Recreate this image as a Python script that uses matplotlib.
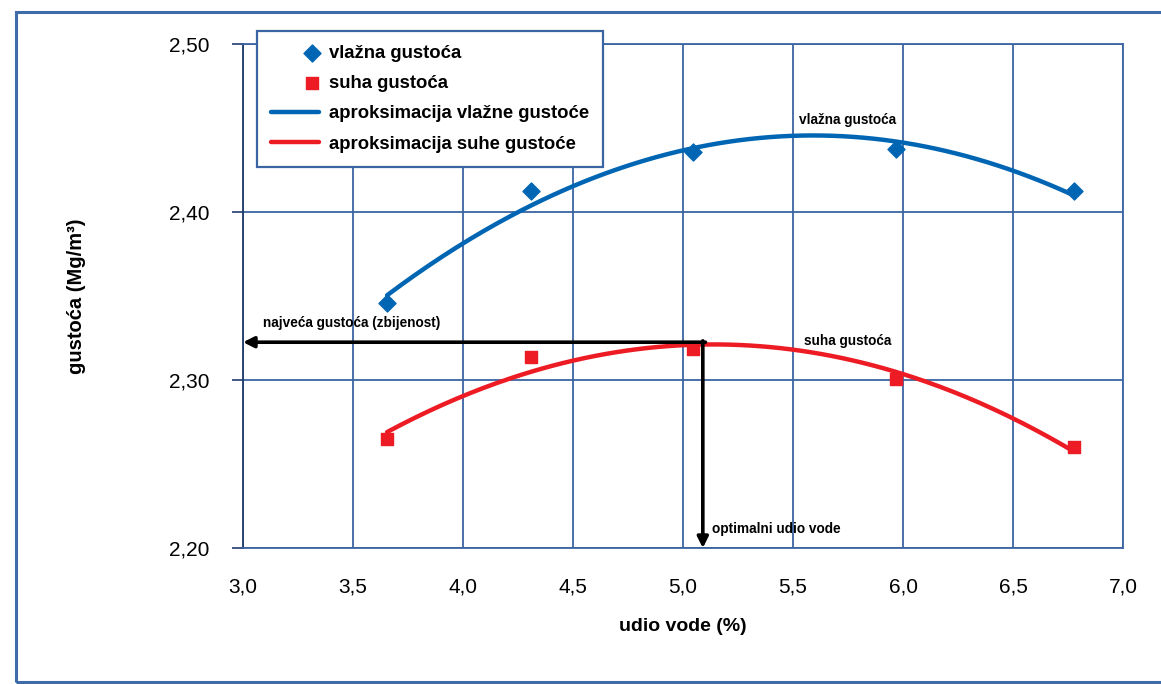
import numpy as np
import matplotlib
matplotlib.use("Agg")
import matplotlib.pyplot as plt
from matplotlib.patches import Rectangle
from matplotlib.ticker import FuncFormatter
from matplotlib.legend_handler import HandlerPathCollection

plt.rcParams['font.family'] = ['Liberation Sans', 'DejaVu Sans']

# measured points (udio vode %, gustoca Mg/m3)
udio_vode = [3.655, 4.31, 5.045, 5.97, 6.775]
vlazna = [2.346, 2.4127, 2.4355, 2.4375, 2.4125]
suha = [2.2647, 2.3135, 2.3185, 2.3005, 2.260]

# optimum
opt_udio = 5.09
max_gustoca = 2.3225

x_ticks = [3.0, 3.5, 4.0, 4.5, 5.0, 5.5, 6.0, 6.5, 7.0]
y_ticks = [2.20, 2.30, 2.40, 2.50]

plava = '#0066b3'
crvena = '#ed1c24'
mreza = '#3b64a2'


class DesniMarker(HandlerPathCollection):
    # legend marker sits at the right end of the handle box
    def get_xdata(self, legend, xdescent, ydescent, width, height, fontsize):
        x = [-xdescent + 0.86 * width]
        return x, x


fig = plt.figure(figsize=(11.61, 6.84), dpi=100)
ax = fig.add_axes([0.2093, 0.1988, 0.7580, 0.7369])

# quadratic approximations
xs = np.linspace(min(udio_vode), max(udio_vode), 200)
pv = np.polyfit(udio_vode, vlazna, 2)
ps = np.polyfit(udio_vode, suha, 2)

ax.plot(xs, np.polyval(pv, xs), color=plava, lw=3.2, solid_capstyle='round', zorder=3,
        label='aproksimacija vlažne gustoće')
ax.plot(xs, np.polyval(ps, xs), color=crvena, lw=3.2, solid_capstyle='round', zorder=3,
        label='aproksimacija suhe gustoće')
sv = ax.scatter(udio_vode, vlazna, marker='D', s=75, color=plava, zorder=4, label='vlažna gustoća')
ss = ax.scatter(udio_vode, suha, marker='s', s=75, color=crvena, zorder=4, label='suha gustoća')

# optimum arrows
ax.annotate('', xy=(3.0, max_gustoca), xytext=(opt_udio + 0.012, max_gustoca),
            arrowprops=dict(arrowstyle='-|>', lw=2.6, color='black', mutation_scale=16,
                            shrinkA=0, shrinkB=0), zorder=5)
ax.annotate('', xy=(opt_udio, 2.20), xytext=(opt_udio, max_gustoca + 0.0008),
            arrowprops=dict(arrowstyle='-|>', lw=2.6, color='black', mutation_scale=16,
                            shrinkA=0, shrinkB=0), zorder=5)

ax.text(3.09, 2.3295, 'najveća gustoća (zbijenost)', fontsize=9.8, fontweight='bold', ha='left', va='bottom')
ax.text(opt_udio + 0.04, 2.207, 'optimalni udio vode', fontsize=9.8, fontweight='bold', ha='left', va='bottom')
ax.text(5.75, 2.4505, 'vlažna gustoća', fontsize=9.8, fontweight='bold', ha='center', va='bottom')
ax.text(5.75, 2.319, 'suha gustoća', fontsize=9.8, fontweight='bold', ha='center', va='bottom')

ax.set_xlim(3.0, 7.0)
ax.set_ylim(2.20, 2.50)
ax.set_xticks(x_ticks)
ax.set_yticks(y_ticks)
ax.xaxis.set_major_formatter(FuncFormatter(lambda v, p: f'{v:.1f}'.replace('.', ',')))
ax.yaxis.set_major_formatter(FuncFormatter(lambda v, p: f'{v:.2f}'.replace('.', ',')))
ax.tick_params(axis='x', length=0, pad=21, labelsize=15)
ax.tick_params(axis='y', length=8, width=1.2, color='#1f3b6e', pad=16, labelsize=15)
ax.grid(True, color=mreza, lw=1.3)
ax.set_axisbelow(True)
for s in ['top', 'right', 'bottom']:
    ax.spines[s].set_color(mreza)
    ax.spines[s].set_linewidth(1.3)
ax.spines['left'].set_color('#1f3b6e')
ax.spines['left'].set_linewidth(1.3)

ax.set_xlabel('udio vode (%)', fontsize=14, fontweight='bold', labelpad=16)
ax.set_ylabel('gustoća (Mg/m³)', fontsize=14.5, fontweight='bold', labelpad=60)

handles, labels = ax.get_legend_handles_labels()
order = [2, 3, 0, 1]
leg = ax.legend([handles[i] for i in order], [labels[i] for i in order],
                loc='upper left', bbox_to_anchor=(0.0159, 1.0258), borderaxespad=0,
                prop=dict(size=13.3, weight='bold'),
                handler_map={sv: DesniMarker(), ss: DesniMarker()},
                fancybox=False, framealpha=1, edgecolor=mreza, handlelength=2.6,
                borderpad=0.75, labelspacing=0.72, handletextpad=0.55)
leg.get_frame().set_linewidth(1.6)
leg.set_zorder(6)

# outer frame
fig.patches.append(Rectangle((0.0138, 0.003), 1.2, 0.979, transform=fig.transFigure,
                             fill=False, edgecolor='#3f6ba8', lw=2.2))

fig.savefig('out.png', dpi=100)
